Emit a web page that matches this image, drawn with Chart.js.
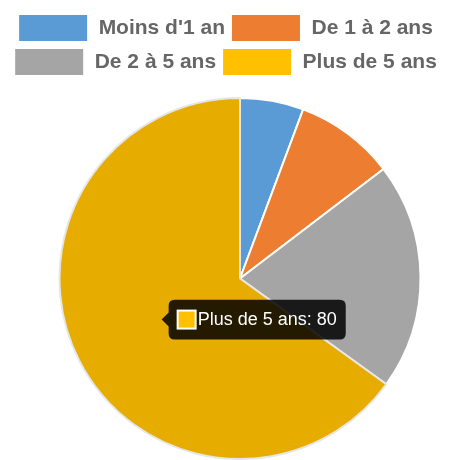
<!DOCTYPE html>
<html><head><meta charset="utf-8">
<script src="https://cdn.jsdelivr.net/npm/chart.js@4"></script>
<style>html,body{margin:0;padding:0;background:#fff}#w{width:451px;height:460px}</style>
</head><body><div id="w"><canvas id="c"></canvas></div>
<script>
const categories = ["Moins d'1 an", "De 1 à 2 ans", "De 2 à 5 ans", "Plus de 5 ans"];
const values = [7, 11, 25, 80];
const colors = ['#5B9BD5', '#ED7D31', '#A5A5A5', '#FFC000'];

const plotBox = { left: 29, right: 451, top: 97, bottom: 460 };
const shiftArea = {
  id: 'shiftArea',
  afterLayout(chart) {
    const a = chart.chartArea;
    a.left = plotBox.left; a.right = plotBox.right;
    a.top = plotBox.top; a.bottom = plotBox.bottom;
    a.width = a.right - a.left; a.height = a.bottom - a.top;
  }
};

const chart = new Chart(document.getElementById('c'), {
  type: 'pie',
  data: { labels: categories, datasets: [{ data: values, backgroundColor: colors, borderColor: '#fff', borderWidth: 2 }] },
  plugins: [shiftArea],
  options: {
    responsive: true, maintainAspectRatio: false, animation: false,
    layout: { padding: { top: 8 } },
    plugins: {
      legend: {
        position: 'top',
        labels: { boxWidth: 70, boxHeight: 28, color: '#666', font: { family: 'Liberation Sans', size: 21, weight: 'bold' }, padding: 6 }
      },
      tooltip: {
        bodyFont: { family: 'Liberation Sans', size: 18 },
        padding: 9, caretSize: 7, backgroundColor: 'rgba(0,0,0,0.85)',
        callbacks: {
          title: () => '',
          label: (ctx) => ctx.label + ': ' + ctx.formattedValue
        }
      }
    }
  }
});
chart.setActiveElements([{ datasetIndex: 0, index: 3 }]);
chart.tooltip.setActiveElements([{ datasetIndex: 0, index: 3 }], { x: 0, y: 0 });
chart.update();
</script></body></html>
